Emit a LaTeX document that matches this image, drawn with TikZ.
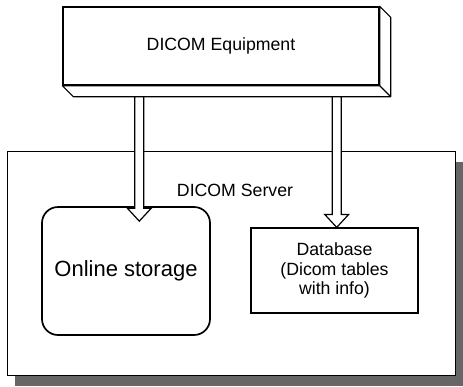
\documentclass[tikz,border=0pt]{standalone}
\usepackage{fontspec}
\setmainfont{Liberation Sans}
\usetikzlibrary{calc,shadows}
\newlength{\ShaftHalf}
\newlength{\HeadHalf}
\newlength{\HeadLength}
\setlength{\ShaftHalf}{4.5pt}
\setlength{\HeadHalf}{12pt}
\setlength{\HeadLength}{13pt}
\tikzset{
  box node/.style={draw, line width=1.2pt, fill=white, inner sep=0pt, align=center,
    font=\fontsize{17.7}{19.5}\selectfont},
  side face/.style={draw, line width=1.1pt, fill=white, line join=round},
  arrow body/.style={draw, line width=1.2pt, fill=white, line join=miter},
}
\newcommand{\hollowarrow}[2]{%
  \draw[arrow body] ([xshift=-\ShaftHalf]#1) -- ([xshift=-\ShaftHalf, yshift=\HeadLength]#2)
    -- ([xshift=-\HeadHalf, yshift=\HeadLength]#2) -- (#2)
    -- ([xshift=\HeadHalf, yshift=\HeadLength]#2) -- ([xshift=\ShaftHalf, yshift=\HeadLength]#2)
    -- ([xshift=\ShaftHalf]#1) -- cycle;}

\begin{document}
\begin{tikzpicture}[x=1pt, y=-1pt]
  \useasboundingbox[fill=white] (0,0) rectangle (463,386);

  \node[box node, minimum width=448pt, minimum height=224pt, line width=1pt,
    drop shadow={shadow xshift=8pt, shadow yshift=-11pt, fill=black!60, opacity=1}]
    (server) at (231,263) {};
  \node[font=\fontsize{17.7}{19.5}\selectfont] (server title) at (235,190) {DICOM Server};

  \node[box node, rounded corners=16pt, line width=1.7pt, minimum width=168pt, minimum height=128pt,
    font=\fontsize{22}{24}\selectfont] (storage) at (126,271) {Online storage};
  \node[box node, minimum width=167pt, minimum height=85pt] (db) at (334.5,270.5)
    {Database\\(Dicom tables\\with info)};

  \node[box node, line width=1.4pt, minimum width=316pt, minimum height=78pt] (equip) at (221,46) {DICOM Equipment};
  \draw[side face] (equip.north east) -- ([shift={(11,11)}]equip.north east)
    -- ([shift={(11,11)}]equip.south east) -- ([shift={(11,11)}]equip.south west)
    -- (equip.south west) -- (equip.south east) -- cycle;
  \draw[side face] (equip.south east) -- ([shift={(11,11)}]equip.south east);

  \coordinate (a1 top) at ($(equip.south west)+(77,11)$);
  \coordinate (a1 tip) at ($(storage.north -| a1 top)+(0,15)$);
  \coordinate (a2 top) at ($(equip.south east)+(-43,11)$);
  \coordinate (a2 tip) at (db.north -| a2 top);
  \hollowarrow{a1 top}{a1 tip}
  \hollowarrow{a2 top}{a2 tip}
\end{tikzpicture}
\end{document}
